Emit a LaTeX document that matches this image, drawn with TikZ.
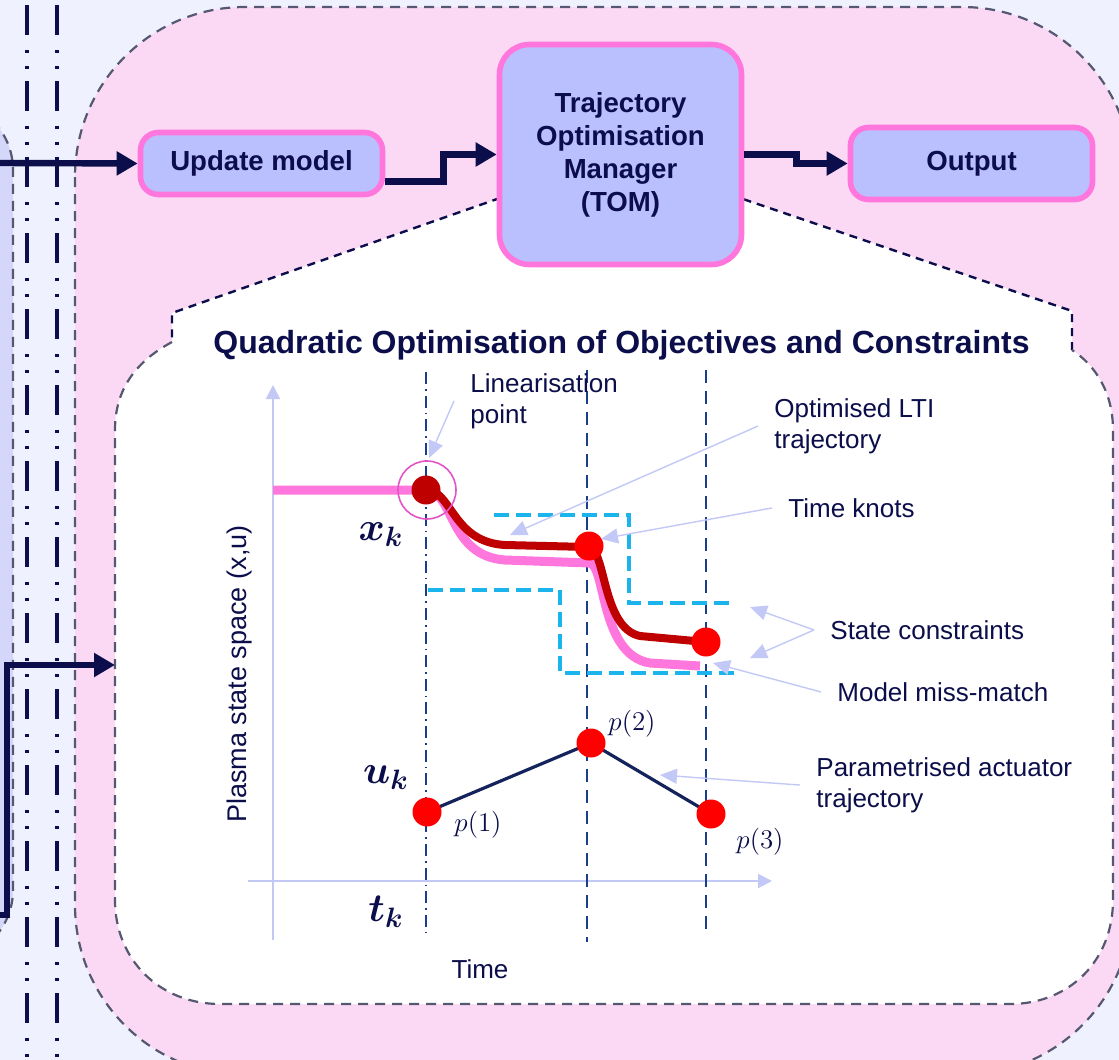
\RequirePackage{fix-cm}
\documentclass[tikz,border=0pt]{standalone}
\usepackage{amsmath}
\usepackage[no-math]{fontspec}
\setmainfont{Liberation Sans}
\usetikzlibrary{arrows.meta,positioning}

\definecolor{lavbg}{HTML}{EFF2FE}
\definecolor{lavdark}{HTML}{D4D6FA}
\definecolor{pinkbg}{HTML}{FBD9F4}
\definecolor{boxfill}{HTML}{BAC0FD}
\definecolor{boxline}{HTML}{FF77DD}
\definecolor{navy}{HTML}{0B0E4A}
\definecolor{dashgray}{HTML}{555870}
\definecolor{axislav}{HTML}{C3C9F7}
\definecolor{knotblue}{HTML}{1A3E8C}
\definecolor{constr}{HTML}{1CB4EC}
\definecolor{trajred}{HTML}{BF0000}
\definecolor{ringpink}{HTML}{E454C8}
\definecolor{actline}{HTML}{15235C}

\begin{document}
\begin{tikzpicture}[x=0.5pt,y=-0.5pt,
  block/.style={draw=boxline,line width=2.8pt,fill=boxfill,text=navy,align=center,inner sep=0pt,
    font=\fontsize{13.8pt}{16.5pt}\selectfont\bfseries},
  flow/.style={draw=navy,line width=3.2pt,-{Triangle[length=10.5pt,width=11.5pt]}},
  dashbound/.style={dashgray,line width=1.1pt,dash pattern=on 5pt off 3.5pt},
  topbound/.style={navy,line width=1.2pt,dash pattern=on 4pt off 3pt},
  railline/.style={navy,line width=2pt,dash pattern=on 15pt off 7.5pt on 1.5pt off 6.5pt on 1.5pt off 6pt},
  note/.style={text=navy,align=left,anchor=north west,inner sep=0pt,font=\fontsize{13pt}{15.5pt}\selectfont},
  pointer/.style={draw=axislav,line width=0.7pt,-{Triangle[length=8.5pt,width=7.5pt]}},
  plotaxis/.style={draw=axislav,line width=1pt,-{Triangle[length=7pt,width=7pt]}},
  knotline/.style={knotblue,line width=1pt,dash pattern=on 6.5pt off 4pt},
  limit/.style={constr,line width=1.6pt,dash pattern=on 7.5pt off 3.5pt},
  knotdot/.style={circle,fill=red,inner sep=0pt,minimum size=14.5pt},
  mathlbl/.style={text=navy,inner sep=0pt,font=\fontsize{20pt}{24pt}\selectfont},
  plbl/.style={text=navy,inner sep=0pt,font=\fontsize{13.5pt}{16pt}\selectfont}]
\useasboundingbox (0,0) rectangle (1119,1060);
\clip (0,0) rectangle (1119,1060);
\fill[lavbg] (0,0) rectangle (1119,1060);

% background regions
\draw[dashbound,fill=lavdark,rounded corners=35pt] (-80,100) rectangle (13,960);
\draw[railline] (27,5) -- (27,1070);
\draw[railline] (57,5) -- (57,1070);
\draw[dashbound,fill=pinkbg,rounded corners=85pt] (75,7) rectangle (1132,1075);

% zoomed QP panel
\fill[white] (500,198) -- (172,313) -- (172,342) .. controls (135,362) and (115,390) .. (115,430) -- (115,900)
  .. controls (115,960) and (160,1004) .. (220,1004) -- (1010,1004) .. controls (1070,1004) and (1113,960) .. (1113,900)
  -- (1113,430) .. controls (1113,392) and (1095,365) .. (1072,350) -- (1072,311) -- (740,198) -- cycle;
\draw[topbound] (500,198) -- (172,313) -- (172,342);
\draw[topbound] (1072,350) -- (1072,311) -- (740,198);
\draw[dashbound] (172,342) .. controls (135,362) and (115,390) .. (115,430) -- (115,900)
  .. controls (115,960) and (160,1004) .. (220,1004) -- (1010,1004) .. controls (1070,1004) and (1113,960) .. (1113,900)
  -- (1113,430) .. controls (1113,392) and (1095,365) .. (1072,350);

% blocks
\node[block,rounded corners=9pt,minimum width=121pt,minimum height=31pt] (update) at (261.5,163.5) {Update model};
\node[block,rounded corners=15pt,minimum width=121pt,minimum height=110pt] (tom) at (620.5,154.5) {Trajectory\\Optimisation\\Manager\\(TOM)};
\node[block,rounded corners=9pt,minimum width=121pt,minimum height=36pt] (output) at (971.5,163.5) {Output};

\coordinate (feedin) at (0,163);
\coordinate (feedback) at (0,915);
\coordinate (qpin) at (115,665);
\draw[flow] (feedin) -- (update.west);
\draw[flow] ([yshift=-9pt]update.east) -- ++(58,0) |- (tom.west);
\draw[flow] (tom.east) -- ++(52,0) |- (output.west);
\draw[flow] (feedback) -- ++(7,0) |- (qpin);

\node[text=navy,font=\fontsize{16pt}{19pt}\selectfont\bfseries,anchor=base] (qtitle) at (621.5,353) {Quadratic Optimisation of Objectives and Constraints};

% axes
\coordinate (ybot) at (273,940);
\coordinate (ytop) at (273,385);
\coordinate (xleft) at (248,881);
\coordinate (xright) at (772,881);
\draw[plotaxis] (ybot) -- (ytop);
\draw[plotaxis] (xleft) -- (xright);
\node[note,anchor=center,rotate=90,font=\fontsize{13.5pt}{16pt}\selectfont] (ylab) at (240,674) {Plasma state space (x,u)};
\node[note,anchor=center] (tlab) at (480,969) {Time};

% time knots and constraints
\draw[knotblue,line width=1pt,dash pattern=on 6pt off 2.5pt on 0.8pt off 2.5pt] (426,372) -- (426,937);
\draw[knotline] (587,370) -- (587,942);
\draw[knotline] (706,370) -- (706,930);
\draw[limit] (494,515) -- (629,515) -- (629,603) -- (731,603);
\draw[limit] (428,590) -- (560,590) -- (560,673) -- (735,673);

% trajectories
\draw[boxline,line width=4.5pt] (273,490) -- (426,490) .. controls (455,492) and (448,556) .. (505,560) -- (590,563)
  .. controls (606,567) and (600,655) .. (650,663) -- (700,666);
\draw[trajred,line width=4pt] (426,490) .. controls (452,490) and (452,542) .. (505,545) -- (589,547)
  .. controls (606,550) and (602,628) .. (640,636) -- (706,642);
\node[knotdot,fill=trajred] (lin) at (426,490) {};
\node[circle,draw=ringpink,line width=0.8pt,minimum size=29pt,inner sep=0pt] (linring) at (427,490) {};
\node[knotdot] (k2) at (589,546) {};
\node[knotdot] (k3) at (706,642) {};

\draw[actline,line width=1.6pt] (427,812) -- (591,743) -- (711,814);
\node[knotdot] (p1) at (427,812) {};
\node[knotdot] (p2) at (591,743) {};
\node[knotdot] (p3) at (711,814) {};

\node[mathlbl] (xk) at (381,535) {$\boldsymbol{x_k}$};
\node[mathlbl] (uk) at (386,778) {$\boldsymbol{u_k}$};
\node[mathlbl] (tk) at (386,912) {$\boldsymbol{t_k}$};
\node[plbl] (p1lbl) at (478,825) {$p(1)$};
\node[plbl] (p2lbl) at (632,724) {$p(2)$};
\node[plbl] (p3lbl) at (760,842) {$p(3)$};

% annotations
\node[note] (linpt) at (470,373) {Linearisation\\point};
\node[note] (optlti) at (774,398) {Optimised LTI\\trajectory};
\node[note] (knots) at (788,498) {Time knots};
\node[note] (stcon) at (830,620) {State constraints};
\node[note] (mism) at (837,682) {Model miss-match};
\node[note] (actu) at (816,757) {Parametrised actuator\\trajectory};

\coordinate (linend) at (429,458);
\coordinate (optend) at (510,535);
\coordinate (knotend) at (601,539);
\coordinate (stend1) at (750,607);
\coordinate (stend2) at (750,658);
\coordinate (mismend) at (713,663);
\coordinate (actuend) at (660,775);
\draw[pointer] ([xshift=-8pt]linpt.west) -- (linend);
\draw[pointer] ([xshift=-8pt]optlti.west) -- (optend);
\draw[pointer] ([xshift=-8pt]knots.west) -- (knotend);
\draw[pointer] ([xshift=-8pt]stcon.west) -- (stend1);
\draw[pointer] ([xshift=-8pt]stcon.west) -- (stend2);
\draw[pointer] ([xshift=-8pt]mism.west) -- (mismend);
\draw[pointer] ([xshift=-8pt]actu.west) -- (actuend);
\end{tikzpicture}
\end{document}
